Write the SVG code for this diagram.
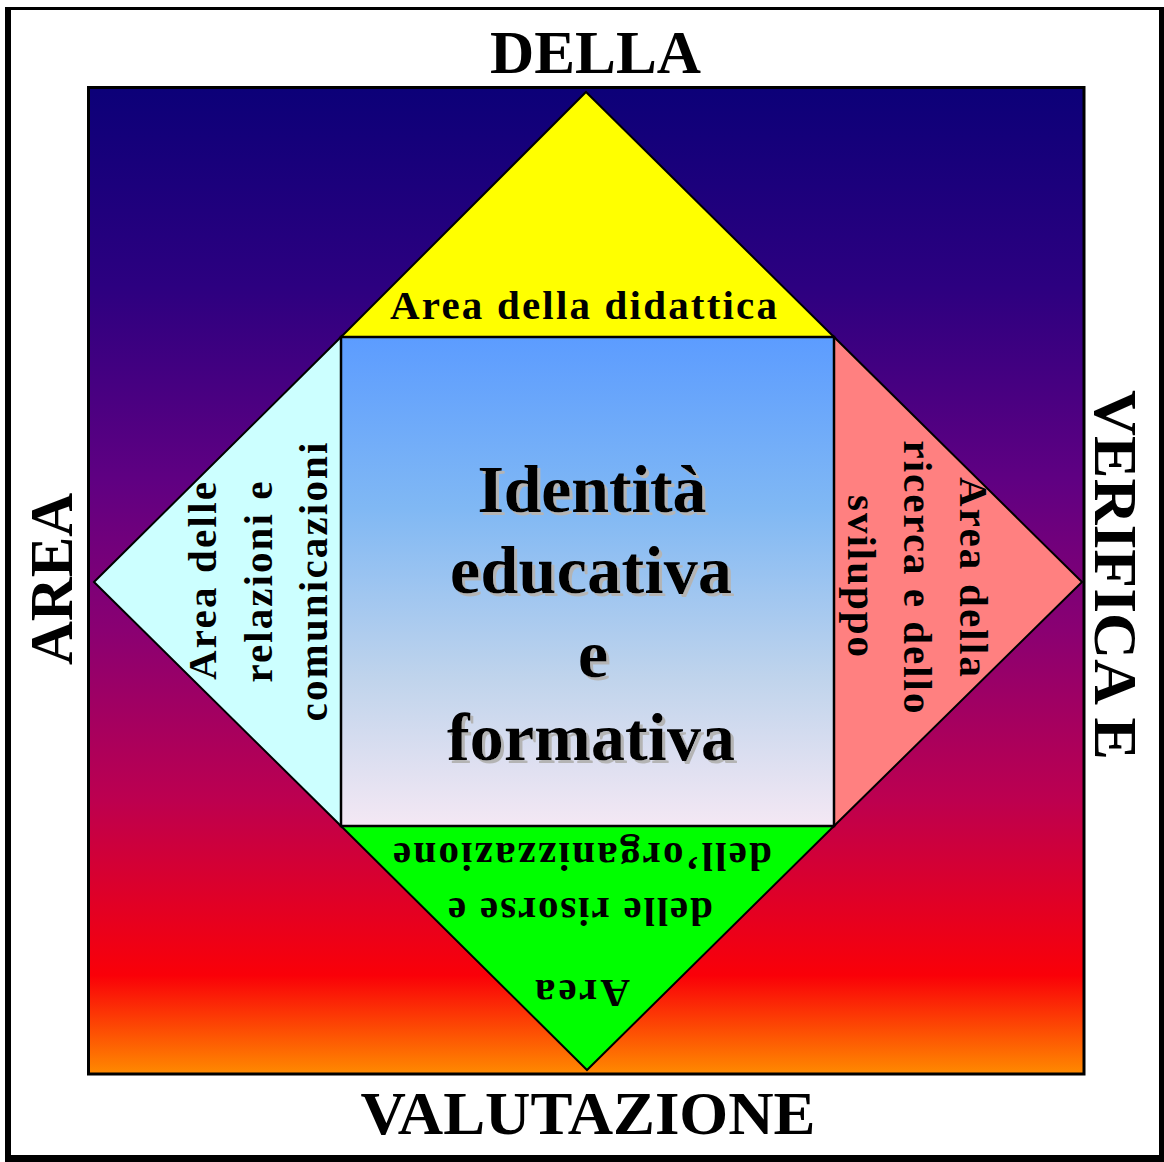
<svg xmlns="http://www.w3.org/2000/svg" width="1164" height="1162" viewBox="0 0 1164 1162">
<defs>
<linearGradient id="bg" x1="0" y1="0" x2="0" y2="1">
<stop offset="0" stop-color="#0c0078"/>
<stop offset="0.2" stop-color="#2c0080"/>
<stop offset="0.4" stop-color="#600082"/>
<stop offset="0.55" stop-color="#8a0072"/>
<stop offset="0.72" stop-color="#bc0050"/>
<stop offset="0.9" stop-color="#fa0008"/>
<stop offset="1" stop-color="#ff8a00"/>
</linearGradient>
<linearGradient id="core" x1="0" y1="0" x2="0" y2="1">
<stop offset="0" stop-color="#5c9cff"/>
<stop offset="0.35" stop-color="#80b8f4"/>
<stop offset="0.7" stop-color="#c0d4ec"/>
<stop offset="1" stop-color="#f4e8f4"/>
</linearGradient>
<filter id="shadow" x="-10%" y="-10%" width="120%" height="130%">
<feOffset in="SourceAlpha" dx="3" dy="3" result="off"/>
<feFlood flood-color="#b4b4b4"/>
<feComposite in2="off" operator="in" result="sh"/>
<feMerge><feMergeNode in="sh"/><feMergeNode in="SourceGraphic"/></feMerge>
</filter>
</defs>
<style>
.t{font-family:"Liberation Serif","Times New Roman",serif;font-weight:bold;fill:#000;}
.big{font-size:62px;}
.mid{font-size:41px;}
.ctr{font-size:68px;}
.tri{stroke:#000;stroke-width:2;}
</style>
<rect x="5" y="7" width="1159" height="1155" fill="#000"/>
<rect x="11" y="10" width="1148" height="1145" fill="#fff"/>
<rect x="88.5" y="87.5" width="995.5" height="986.5" fill="url(#bg)" stroke="#000" stroke-width="3"/>
<g id="labels-outer">
<text class="t big" x="595.5" y="73" text-anchor="middle" textLength="211" lengthAdjust="spacingAndGlyphs">DELLA</text>
<text class="t big" x="588" y="1134" text-anchor="middle" textLength="455" lengthAdjust="spacingAndGlyphs">VALUTAZIONE</text>
<text class="t big" transform="translate(72,579) rotate(-90)" text-anchor="middle" textLength="172" lengthAdjust="spacingAndGlyphs">AREA</text>
<text class="t big" transform="translate(1095,575) rotate(90)" text-anchor="middle" textLength="370" lengthAdjust="spacingAndGlyphs">VERIFICA E</text>
</g>
<g id="node-top">
<polygon class="tri" points="586,92 834,337 341,337" fill="#ffff00"/>
<text class="t mid" x="583.5" y="319" text-anchor="middle" textLength="387" lengthAdjust="spacing">Area della didattica</text>
</g>
<g id="node-left">
<polygon class="tri" points="94,582 341,337 341,826" fill="#ccffff"/>
<text class="t mid" transform="translate(216,581) rotate(-90)" text-anchor="middle" textLength="198" lengthAdjust="spacing">Area delle</text>
<text class="t mid" transform="translate(272,582) rotate(-90)" text-anchor="middle" textLength="201" lengthAdjust="spacing">relazioni e</text>
<text class="t mid" transform="translate(327,582) rotate(-90)" text-anchor="middle" textLength="279" lengthAdjust="spacing">comunicazioni</text>
</g>
<g id="node-right">
<polygon class="tri" points="1082,582 834,337 834,826" fill="#ff8080"/>
<text class="t mid" transform="translate(960,577) rotate(90)" text-anchor="middle" textLength="200" lengthAdjust="spacing">Area della</text>
<text class="t mid" transform="translate(904,577) rotate(90)" text-anchor="middle" textLength="273" lengthAdjust="spacing">ricerca e dello</text>
<text class="t mid" transform="translate(848,576) rotate(90)" text-anchor="middle" textLength="162" lengthAdjust="spacing">sviluppo</text>
</g>
<g id="node-bottom">
<polygon class="tri" points="341,826 834,826 587,1070" fill="#00ff00"/>
<text class="t mid" transform="translate(582.5,843) rotate(180)" text-anchor="middle" textLength="379" lengthAdjust="spacing">dell’organizzazione</text>
<text class="t mid" transform="translate(580.5,898) rotate(180)" text-anchor="middle" textLength="265" lengthAdjust="spacing">delle risorse e</text>
<text class="t mid" transform="translate(582.5,980) rotate(180)" text-anchor="middle" textLength="95" lengthAdjust="spacing">Area</text>
</g>
<g id="node-center">
<rect x="341" y="337" width="493" height="489" fill="url(#core)" stroke="#000" stroke-width="2.5"/>
<g class="t ctr" text-anchor="middle" filter="url(#shadow)">
<text x="592" y="512" textLength="229" lengthAdjust="spacing">Identità</text>
<text x="591" y="593" textLength="282" lengthAdjust="spacing">educativa</text>
<text x="593" y="677">e</text>
<text x="591" y="760" textLength="288" lengthAdjust="spacing">formativa</text>
</g>
</g>
</svg>
